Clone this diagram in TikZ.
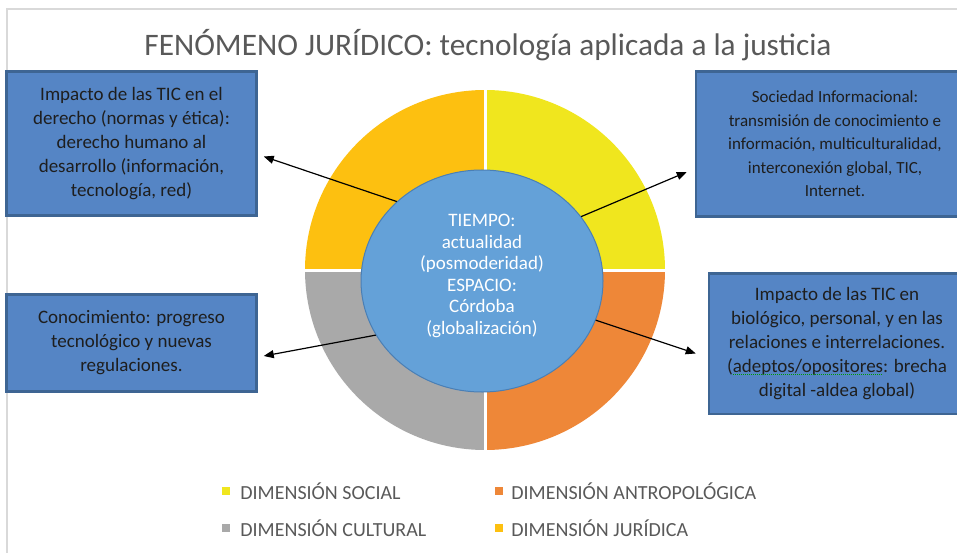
\documentclass[tikz,border=0pt]{standalone}
\usepackage{fontspec}
\setmainfont{Carlito}
\usepackage{xcolor}
\usetikzlibrary{shapes.geometric, arrows.meta, positioning}

\definecolor{social}{HTML}{F0E61E}
\definecolor{juridica}{HTML}{FDC010}
\definecolor{cultural}{HTML}{A9A9A9}
\definecolor{antropo}{HTML}{EE8738}
\definecolor{centrofill}{HTML}{64A1D8}
\definecolor{centroline}{HTML}{4A7FB5}
\definecolor{boxfill}{HTML}{5585C5}
\definecolor{boxline}{HTML}{3E6593}
\definecolor{boxtext}{HTML}{1E1E1E}
\definecolor{gristxt}{HTML}{595959}
\definecolor{marco}{HTML}{D9D9D9}

\begin{document}
\begin{tikzpicture}[
  x=1pt, y=-1pt,
  box/.style={rectangle, draw=boxline, fill=boxfill, line width=2.5pt, text=boxtext, align=center, inner sep=0pt, font=\fontsize{19}{24}\selectfont},
  arrow/.style={line width=1.2pt, -{Triangle[length=10pt, width=8pt]}},
  cuadro/.style={rectangle, minimum size=8pt, inner sep=0pt},
  leytxt/.style={font=\fontsize{20}{24}\selectfont, text=gristxt, inner sep=0pt}
]
\useasboundingbox (0,0) rectangle (957,553);
\draw [marco, line width=1.5pt] (7,553) -- (7,9) -- (957,9);

\node (titulo) [font=\fontsize{31.3}{36}\selectfont, text=gristxt] at (488,45) {FENÓMENO JURÍDICO: tecnología aplicada a la justicia};

% anillo de dimensiones
\fill [social] (485,270) -- ++(0,-180) arc[start angle=-90, end angle=0, radius=180] -- cycle;
\fill [juridica] (485,270) -- ++(0,-180) arc[start angle=-90, end angle=-180, radius=180] -- cycle;
\fill [cultural] (485,270) -- ++(-180,0) arc[start angle=180, end angle=90, radius=180] -- cycle;
\fill [antropo] (485,270) -- ++(180,0) arc[start angle=0, end angle=90, radius=180] -- cycle;
\draw [white, line width=3pt] (485,88) -- (485,452) (303,270) -- (667,270);

\node (centro) [ellipse, draw=centroline, fill=centrofill, line width=1pt, minimum width=242, minimum height=222, inner sep=0pt] at (482,281) {};
\node (tiempo) [text=white, align=center, font=\fontsize{19}{21.6}\selectfont] at ([yshift=5]centro.center) {TIEMPO:\\actualidad\\(posmoderidad)\\ESPACIO:\\Córdoba\\(globalización)};

% cuadros
\node (impacto) [box, minimum width=250, minimum height=144] at (131.5,143.5) {Impacto de las TIC en el\\derecho (normas y ética):\\derecho humano al\\desarrollo (información,\\tecnología, red)};
\node (sociedad) [box, minimum width=278, minimum height=145, font=\fontsize{17}{23.5}\selectfont] at (835,144) {Sociedad Informacional:\\transmisión de conocimiento e\\información, multiculturalidad,\\interconexión global, TIC,\\Internet.};
\node (conoc) [box, minimum width=250, minimum height=97] at (131.5,343) {Conocimiento: progreso\\tecnológico y nuevas\\regulaciones.};
\node (biolog) [box, minimum width=256, minimum height=140.5] at (837,343.5) {Impacto de las TIC en\\biológico, personal, y en las\\relaciones e interrelaciones.\\(adeptos/opositores: brecha\\digital -aldea global)};
\draw [green!60!black, densely dotted, line width=1pt] (733,374) -- (882,374);

\draw [arrow] (centro.137) -- ([shift={(6,13)}]impacto.east);
\draw [arrow] (centro.33) -- ([shift={(-8,28)}]sociedad.west);
\draw [arrow] (centro.207) -- ([shift={(6,13)}]conoc.east);
\draw [arrow] (centro.341) -- ([shift={(-12,10)}]biolog.west);

% leyenda
\node (sqsoc) [cuadro, fill=social] at (226,491) {};
\node (txsoc) [leytxt, right=10pt of sqsoc] {DIMENSIÓN SOCIAL};
\node (sqant) [cuadro, fill=antropo] at (499,491) {};
\node (txant) [leytxt, right=8pt of sqant] {DIMENSIÓN ANTROPOLÓGICA};
\node (sqcul) [cuadro, fill=cultural] at (226,528) {};
\node (txcul) [leytxt, right=10pt of sqcul] {DIMENSIÓN CULTURAL};
\node (sqjur) [cuadro, fill=juridica] at (499,528) {};
\node (txjur) [leytxt, right=8pt of sqjur] {DIMENSIÓN JURÍDICA};
\end{tikzpicture}
\end{document}
